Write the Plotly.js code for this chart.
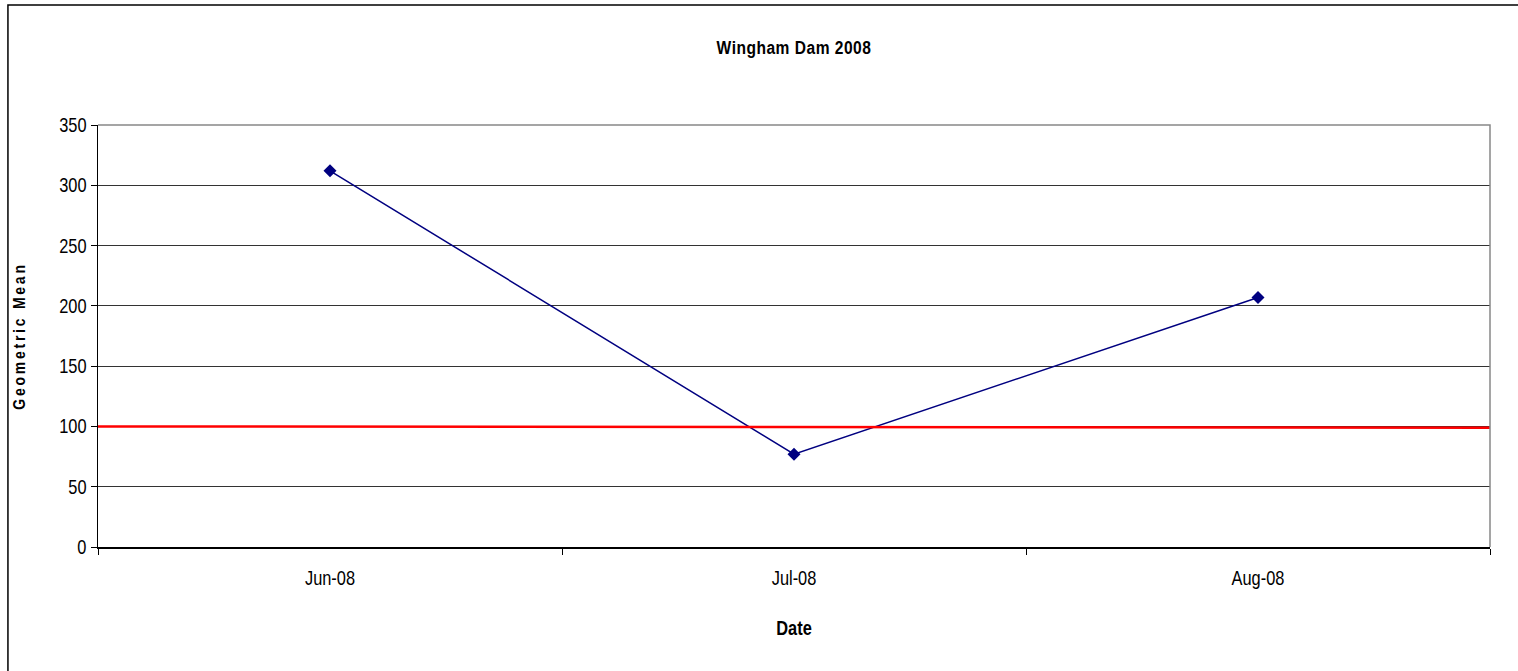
<!DOCTYPE html>
<html>
<head>
<meta charset="utf-8">
<script src="https://cdn.plot.ly/plotly-3.0.1.min.js"></script>
<style>
html,body{margin:0;padding:0;background:#fff;}
#chart{width:1518px;height:671px;}
</style>
</head>
<body>
<div id="chart"></div>
<script>
const categories = ["Jun-08", "Jul-08", "Aug-08"];
const geometricMean = [312, 77, 207];
const thresholdX = [0, 1];
const thresholdY = [100, 99];
const yTicks = [0, 50, 100, 150, 200, 250, 300, 350];

const FONT = '"Liberation Sans", Arial, sans-serif';

const traces = [
  {
    x: thresholdX, y: thresholdY, xaxis: 'x2', yaxis: 'y',
    mode: 'lines', line: {color: '#ff0000', width: 2.5},
    hoverinfo: 'skip', showlegend: false
  },
  {
    x: categories, y: geometricMean, type: 'scatter', mode: 'lines+markers',
    line: {color: '#000080', width: 1.5},
    marker: {symbol: 'diamond', size: 10, color: '#000080'},
    showlegend: false
  }
];

const layout = {
  width: 1518, height: 671,
  margin: {l: 98, r: 28, t: 125, b: 124},
  paper_bgcolor: '#ffffff', plot_bgcolor: '#ffffff',
  font: {family: FONT, size: 20, color: '#000'},
  showlegend: false,
  title: {text: '<b>Wingham Dam 2008</b>', x: 0.5, xref: 'paper', xanchor: 'center', y: 0.93, yanchor: 'middle', font: {family: FONT, size: 19, color: '#000'}},
  xaxis: {
    type: 'category', range: [-0.5, 2.5],
    tickson: 'boundaries', ticks: 'outside', ticklen: 6, tickcolor: '#000', tickwidth: 1,
    ticklabelstandoff: 13,
    showline: true, linecolor: '#000', linewidth: 1.5,
    showgrid: false, zeroline: false,
    tickfont: {family: FONT, size: 20},
    title: {text: '<b>Date</b>', font: {family: FONT, size: 20}, standoff: 32}
  },
  xaxis2: {overlaying: 'x', range: [0, 1], visible: false, fixedrange: true},
  yaxis: {
    range: [0, 350], tickvals: yTicks, ticks: 'outside', ticklen: 6, tickcolor: '#000',
    showline: true, linecolor: '#000', linewidth: 1.5,
    showgrid: true, gridcolor: '#333', gridwidth: 1, zeroline: false,
    tickfont: {family: FONT, size: 20},
    title: {text: '<b>Geometric Mean</b>', font: {family: FONT, size: 17}, standoff: 23}
  },
  shapes: [
    {type: 'path', xref: 'paper', yref: 'paper', path: 'M0,1 L1,1 L1,0', line: {color: '#888', width: 1.5}},
    {type: 'path', xref: 'paper', yref: 'paper', path: 'M-0.0647,-0.6 L-0.0647,1.2844 L1.2,1.2844', line: {color: '#000', width: 1.5}}
  ]
};

function condense(el, f) {
  const x = parseFloat(el.getAttribute('x') || 0);
  const y = parseFloat(el.getAttribute('y') || 0);
  const t = el.getAttribute('transform') || '';
  el.setAttribute('transform', t + ' translate(' + x + ',' + y + ') scale(' + f + ',1) translate(' + (-x) + ',' + (-y) + ')');
}

Plotly.newPlot('chart', traces, layout, {displayModeBar: false, staticPlot: true}).then(function(){
  const gd = document.getElementById('chart');
  gd.querySelectorAll('.xtick text, .ytick text, .xtitle, .ytitle, .gtitle').forEach(function(t){ condense(t, 0.82); });
  gd.querySelectorAll('.ytitle').forEach(function(t){ t.style.letterSpacing = '3.4px'; });
  gd.querySelectorAll('.gtitle').forEach(function(t){ t.style.letterSpacing = '0.6px'; });
});
</script>
</body>
</html>
